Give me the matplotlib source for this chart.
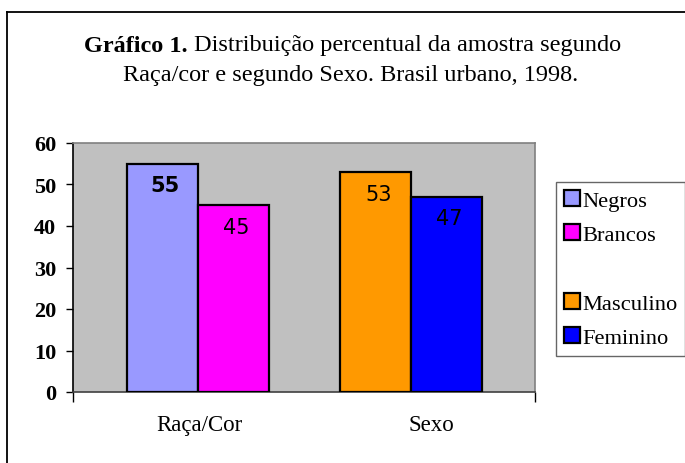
import matplotlib
matplotlib.use("Agg")
import matplotlib.pyplot as plt
from matplotlib.patches import Patch
from matplotlib.lines import Line2D
import numpy as np

categories = ["Raça/Cor", "Sexo"]
series_names = ["Negros", "Brancos", "Masculino", "Feminino"]
values = [55, 45, 53, 47]
series_group = [0, 0, 1, 1]      # category index of each series
series_side = [-1, 1, -1, 1]     # left / right bar in group
series_colors = ["#9999FF", "#FF00FF", "#FF9900", "#0000FF"]
label_bold = [True, False, False, False]
yticks = [0, 10, 20, 30, 40, 50, 60]

serif = ["Liberation Serif", "DejaVu Serif"]

W, H = 685, 464
fig = plt.figure(figsize=(W / 100, H / 100), dpi=100)

# outer frame (left and top visible)
fig.add_artist(Line2D([7 / W, 7 / W], [0, 1 - 13 / H], color="black", lw=1.3, transform=fig.transFigure))
fig.add_artist(Line2D([7 / W, 1], [1 - 13 / H, 1 - 13 / H], color="black", lw=1.3, transform=fig.transFigure))

ax = fig.add_axes([73 / W, (H - 393) / H, (535 - 73) / W, (393 - 144) / H])
ax.set_facecolor("#C0C0C0")

bw = 71 / 213
group_pos = np.arange(len(categories)).astype(float)
for i, (name, v) in enumerate(zip(series_names, values)):
    g = series_group[i]
    xc = group_pos[g] + series_side[i] * bw / 2
    ax.bar(xc, v, width=bw, color=series_colors[i], edgecolor="black", linewidth=1.6,
           label=name, zorder=3)
    ax.annotate(str(v), (xc, v), xytext=(2, -15.5), textcoords="offset points",
                ha="center", va="center", fontsize=15,
                fontweight="bold" if label_bold[i] else "normal",
                family="DejaVu Sans", color="black", zorder=4)

ax.set_xlim((73 - 198) / 213, (535 - 198) / 213)
ax.set_ylim(0, 60)
ax.set_yticks(yticks)
ax.set_yticklabels([str(t) for t in yticks], fontsize=16, fontweight="bold", family=serif)
ax.tick_params(axis="y", direction="out", length=5, width=1, pad=7)

label_offsets = [0.005, 0.094]
ax.set_xticks(group_pos + np.array(label_offsets))
ax.set_xticklabels(categories, fontsize=16.5, family=serif)
ax.tick_params(axis="x", which="major", length=0, pad=16)
xl = ax.get_xlim()
ax.set_xticks([xl[0], xl[1]], minor=True)
ax.tick_params(axis="x", which="minor", direction="out", length=7, width=1)

ax.spines["left"].set_color("black")
ax.spines["bottom"].set_color("#404040")
ax.spines["top"].set_color("#808080")
ax.spines["right"].set_color("#808080")
for s in ax.spines.values():
    s.set_linewidth(1.2)

# title (bold lead + regular text, centred together)
tfs = 17.5
ty = 1 - 46 / H
tb = fig.text(0, ty, "Gráfico 1. ", ha="left", va="center", fontsize=tfs,
              fontweight="bold", family=serif)
tr = fig.text(0, ty, "Distribuição percentual da amostra segundo", ha="left", va="center",
              fontsize=tfs, family=serif)
fig.canvas.draw()
r = fig.canvas.get_renderer()
wb = tb.get_window_extent(r).width
wr = tr.get_window_extent(r).width
x0 = 352.5 - (wb + wr) / 2
tb.set_x(x0 / W)
tr.set_x((x0 + wb) / W)
fig.text(351 / W, 1 - 76 / H, "Raça/cor e segundo Sexo. Brasil urbano, 1998.", ha="center",
         va="center", fontsize=tfs, family=serif)

# legend
handles = []
for i, name in enumerate(series_names):
    handles.append(Patch(facecolor=series_colors[i], edgecolor="black", linewidth=1.6, label=name))
blank = Patch(facecolor="none", edgecolor="none", label=" ")
handles = handles[:2] + [blank] + handles[2:]
leg = fig.legend(handles=handles, loc="upper left", bbox_to_anchor=(556 / W, 1 - 183 / H),
                 prop={"family": serif, "size": 16.2}, frameon=True, fancybox=False,
                 edgecolor="#404040", borderpad=0.36, handlelength=0.7, handleheight=0.7,
                 handletextpad=0.1, labelspacing=0.6, borderaxespad=0)
leg.get_frame().set_linewidth(1.0)

fig.savefig("out.png", dpi=100)
